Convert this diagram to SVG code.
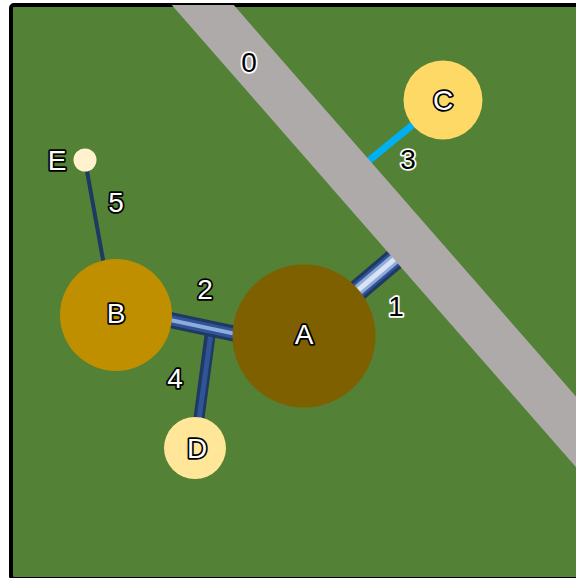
<svg xmlns="http://www.w3.org/2000/svg" width="576" height="578" viewBox="0 0 576 578">
  <style>
    .lbl { font-family: "Liberation Sans", Arial, sans-serif; font-size: 28px; text-anchor: middle; stroke-width: 3.5px; paint-order: stroke; stroke-linejoin: round; }
    .lt { fill: #ffffff; stroke: #000000; }
    .dk { fill: #000000; stroke: #ffffff; }
    .conn { fill: none; stroke-linecap: butt; }
  </style>
  <defs>
    <clipPath id="frame">
      <rect x="11" y="5" width="600" height="574"/>
    </clipPath>
  </defs>

  <rect x="0" y="0" width="576" height="578" fill="#ffffff"/>
  <rect x="11" y="5" width="600" height="574" rx="3" fill="#538135" stroke="#000000" stroke-width="4"/>

  <g clip-path="url(#frame)">
    <!-- connectors -->
    <g id="connectors">
      <!-- 1: A to road -->
      <g id="edge1">
        <line class="conn" x1="304" y1="336" x2="410" y2="246" stroke="#1f3864" stroke-width="22"/>
        <line class="conn" x1="304" y1="336" x2="410" y2="246" stroke="#2f5597" stroke-width="16"/>
        <line class="conn" x1="304" y1="336" x2="410" y2="246" stroke="#8faadc" stroke-width="11"/>
        <line class="conn" x1="304" y1="336" x2="410" y2="246" stroke="#dae3f3" stroke-width="5"/>
      </g>
      <!-- 3: C to road -->
      <line id="edge3" class="conn" x1="443" y1="100" x2="355" y2="172" stroke="#00b0f0" stroke-width="7"/>
      <!-- 4: branch down to D -->
      <g id="edge4">
        <line class="conn" x1="211" y1="328" x2="195" y2="448" stroke="#1f3864" stroke-width="11"/>
        <line class="conn" x1="211" y1="333" x2="195" y2="448" stroke="#2f5597" stroke-width="5"/>
      </g>
      <!-- 2: B to A -->
      <g id="edge2">
        <line class="conn" x1="116" y1="308.5" x2="304" y2="348.5" stroke="#1f3864" stroke-width="16"/>
        <line class="conn" x1="116" y1="308.5" x2="304" y2="348.5" stroke="#2f5597" stroke-width="10"/>
        <line class="conn" x1="116" y1="308.5" x2="304" y2="348.5" stroke="#8faadc" stroke-width="4"/>
      </g>
      <!-- 5: E to B -->
      <line id="edge5" class="conn" x1="85" y1="160" x2="113" y2="315" stroke="#1f3864" stroke-width="4"/>
    </g>

    <!-- road band 0 -->
    <g id="road0">
      <polygon points="170,3 232,3 754,600 692,600" fill="#aeaaaa"/>
    </g>
  </g>

  <g id="nodeA">
    <circle cx="304" cy="336" r="71.5" fill="#7f6000"/>
    <text class="lbl lt" x="304" y="344">A</text>
  </g>
  <g id="nodeB">
    <circle cx="116" cy="315" r="56" fill="#bf8f00"/>
    <text class="lbl lt" x="116" y="323">B</text>
  </g>
  <g id="nodeC">
    <circle cx="443" cy="100" r="39.5" fill="#ffd966"/>
    <text class="lbl lt" x="443" y="110">C</text>
  </g>
  <g id="nodeD">
    <circle cx="195" cy="448" r="31" fill="#ffe699"/>
    <text class="lbl lt" x="197" y="458">D</text>
  </g>
  <g id="nodeE">
    <circle cx="85" cy="160" r="11.5" fill="#fff2cc"/>
    <text class="lbl lt" x="57" y="170">E</text>
  </g>

  <g id="edge-labels">
    <text class="lbl dk" x="249" y="72">0</text>
    <text class="lbl dk" x="396" y="316">1</text>
    <text class="lbl lt" x="205" y="299">2</text>
    <text class="lbl dk" x="408" y="169">3</text>
    <text class="lbl lt" x="175" y="388">4</text>
    <text class="lbl lt" x="116" y="212">5</text>
  </g>
</svg>
